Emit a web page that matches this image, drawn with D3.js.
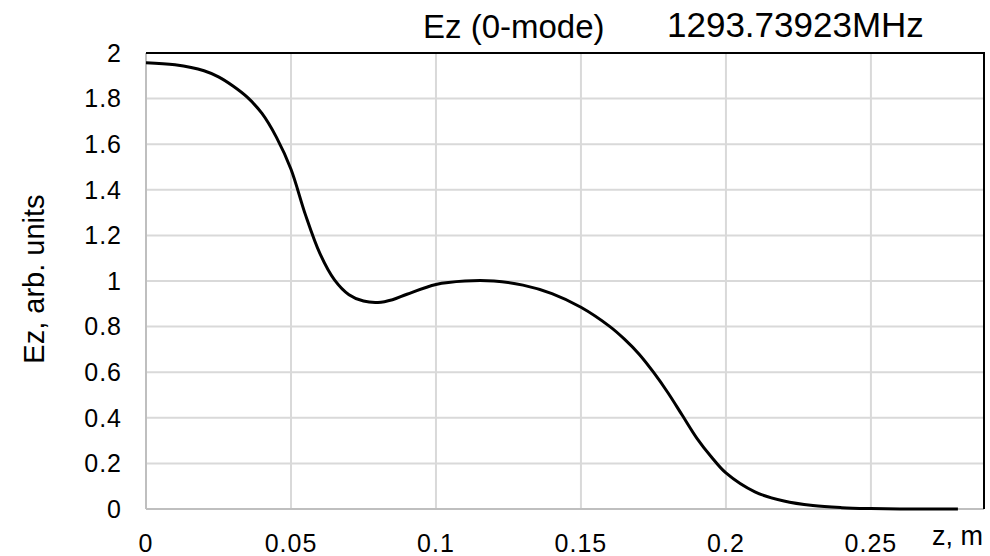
<!DOCTYPE html>
<html>
<head>
<meta charset="utf-8">
<script src="https://cdn.jsdelivr.net/npm/d3@7"></script>
<style>
  body { margin: 0; background: #fff; }
  text { font-family: "Liberation Sans", Arial, sans-serif; fill: #000; }
</style>
</head>
<body>
<div id="vis"></div>
<script>
var w = 990, h = 556; //size of the svg

//position along the axis, m
var zValues = [0, 0.01, 0.02, 0.025, 0.03, 0.035, 0.04, 0.045, 0.05, 0.055,
               0.06, 0.065, 0.07, 0.075, 0.08, 0.085, 0.09, 0.1, 0.11, 0.12,
               0.13, 0.14, 0.15, 0.16, 0.165, 0.17, 0.175, 0.18, 0.185, 0.19, 0.195,
               0.2, 0.21, 0.22, 0.23, 0.24, 0.25, 0.26, 0.27, 0.28];

//field amplitude Ez, arb. units
var ezValues = [1.957, 1.948, 1.922, 1.895, 1.855, 1.805, 1.735, 1.63, 1.49, 1.29,
                1.12, 1.005, 0.94, 0.912, 0.906, 0.918, 0.942, 0.985, 1.0, 1.0,
                0.982, 0.945, 0.885, 0.80, 0.745, 0.68, 0.60, 0.51, 0.41, 0.31, 0.228,
                0.158, 0.075, 0.035, 0.015, 0.006, 0.002, 0.0, 0.0, 0.0];

var xTicks = [0, 0.05, 0.1, 0.15, 0.2, 0.25];
var xTickLabels = ["0", "0.05", "0.1", "0.15", "0.2", "0.25"];
var yTicks = [0, 0.2, 0.4, 0.6, 0.8, 1, 1.2, 1.4, 1.6, 1.8, 2];
var yTickLabels = ["0", "0.2", "0.4", "0.6", "0.8", "1", "1.2", "1.4", "1.6", "1.8", "2"];

var dataset = zValues.map(function(z, i){
    return {z: z, ez: ezValues[i]};
});

//plot area edges in pixels
var plotLeft = 146, plotRight = 984, plotTop = 53, plotBottom = 509;

var xScale = d3.scaleLinear()
               .domain([0, 0.289])
               .range([plotLeft, plotRight]);

var yScale = d3.scaleLinear()
               .domain([0, 2])
               .range([plotBottom, plotTop]);

var svg = d3.select("#vis")
            .append("svg")
            .attr("width", w)
            .attr("height", h);

//gridlines
svg.selectAll("line.vgrid")
    .data(xTicks.slice(1))
    .enter()
    .append("line")
    .attr("class", "vgrid")
    .attr("x1", function(d){ return xScale(d); })
    .attr("x2", function(d){ return xScale(d); })
    .attr("y1", plotTop)
    .attr("y2", plotBottom)
    .attr("stroke", "#d9d9d9")
    .attr("stroke-width", 2);

svg.selectAll("line.hgrid")
    .data(yTicks.slice(1))
    .enter()
    .append("line")
    .attr("class", "hgrid")
    .attr("x1", plotLeft)
    .attr("x2", plotRight)
    .attr("y1", function(d){ return yScale(d); })
    .attr("y2", function(d){ return yScale(d); })
    .attr("stroke", "#d9d9d9")
    .attr("stroke-width", 2);

//left and bottom axis lines (grey)
svg.append("line")
    .attr("x1", plotLeft).attr("x2", plotLeft)
    .attr("y1", plotTop).attr("y2", plotBottom)
    .attr("stroke", "#bfbfbf")
    .attr("stroke-width", 2);

svg.append("line")
    .attr("x1", plotLeft).attr("x2", plotRight)
    .attr("y1", plotBottom).attr("y2", plotBottom)
    .attr("stroke", "#bfbfbf")
    .attr("stroke-width", 2);

//top and right border (black)
svg.append("path")
    .attr("d", "M" + plotLeft + "," + plotTop + "H" + plotRight + "V" + plotBottom)
    .attr("fill", "none")
    .attr("stroke", "#000")
    .attr("stroke-width", 2);

//tick labels
svg.selectAll("text.xlab")
    .data(xTicks)
    .enter()
    .append("text")
    .attr("class", "xlab")
    .attr("x", function(d){ return xScale(d); })
    .attr("y", 552)
    .attr("text-anchor", "middle")
    .attr("font-size", 25)
    .style("letter-spacing", "1px")
    .text(function(d, i){ return xTickLabels[i]; });

svg.selectAll("text.ylab")
    .data(yTicks)
    .enter()
    .append("text")
    .attr("class", "ylab")
    .attr("x", 122)
    .attr("y", function(d){ return yScale(d); })
    .attr("dy", "0.35em")
    .attr("text-anchor", "end")
    .attr("font-size", 25)
    .style("letter-spacing", "1px")
    .text(function(d, i){ return yTickLabels[i]; });

//the field curve
var line = d3.line()
             .x(function(d){ return xScale(d.z); })
             .y(function(d){ return yScale(d.ez); })
             .curve(d3.curveCatmullRom.alpha(0.5));

svg.append("path")
    .datum(dataset)
    .attr("d", line)
    .attr("fill", "none")
    .attr("stroke", "#000")
    .attr("stroke-width", 3);

//titles
svg.append("text")
    .attr("x", 423)
    .attr("y", 38)
    .attr("font-size", 33)
    .text("Ez (0-mode)");

svg.append("text")
    .attr("x", 667)
    .attr("y", 37)
    .attr("font-size", 35)
    .text("1293.73923MHz");

svg.append("text")
    .attr("x", 932)
    .attr("y", 545)
    .attr("font-size", 27)
    .text("z, m");

svg.append("text")
    .attr("transform", "translate(44,279) rotate(-90)")
    .attr("text-anchor", "middle")
    .attr("font-size", 29)
    .text("Ez, arb. units");
</script>
</body>
</html>
